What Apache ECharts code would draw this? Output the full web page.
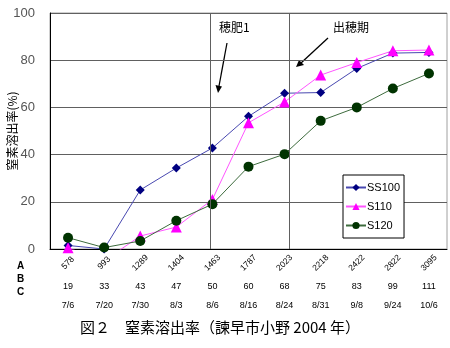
<!DOCTYPE html>
<html><head><meta charset="utf-8">
<script src="https://cdn.jsdelivr.net/npm/echarts@6/dist/echarts.min.js"></script>
<style>html,body{margin:0;padding:0;background:#fff}#c{width:450px;height:348px}</style>
</head><body><div id="c"></div>
<script>
const rowA = ['578','993','1289','1404','1463','1787','2023','2218','2422','2822','3095'];
const rowB = ['19','33','43','47','50','60','68','75','83','99','111'];
const rowC = ['7/6','7/20','7/30','8/3','8/6','8/16','8/24','8/31','9/8','9/24','10/6'];
const ss100 = [1.5, 0, 25, 34.3, 42.8, 56.2, 66, 66.3, 76.5, 83, 83.3];
const s110 = [0.5, -5, 5.5, 9.3, 21, 53.5, 62.3, 73.7, 79, 84, 84.3];
const s120 = [4.8, 0.6, 3.4, 12, 19, 34.9, 40.2, 54.3, 60, 68, 74.4];
const yTicks = [0, 20, 40, 60, 80, 100];
const eventPos = [3.93, 6.12];

const chart = echarts.init(document.getElementById('c'));
const font = 'Liberation Sans, Arial, sans-serif';
const cjk = '"Noto Sans CJK JP", sans-serif';
chart.setOption({
  animation: false,
  backgroundColor: '#fff',
  grid: {left: 50, right: 3, top: 13, bottom: 99, show: true, borderColor: '#a0a0a0', borderWidth: 1,
         containLabel: false, outerBoundsMode: 'none'},
  legend: {
    orient: 'vertical', left: 343, top: 175,
    padding: [7, 4, 7, 2], itemGap: 8,
    backgroundColor: '#fff', borderColor: '#000', borderWidth: 1,
    itemWidth: 20, itemHeight: 9,
    textStyle: {fontFamily: font, fontSize: 11, color: '#000', padding: [0,0,0,-4]},
    data: ['SS100', 'S110', 'S120']
  },
  xAxis: [
    {type: 'category', data: rowA, boundaryGap: true,
     axisLine: {onZero: false, lineStyle: {color: '#000'}}, axisTick: {show: false},
     axisLabel: {rotate: 45, align: 'center', verticalAlign: 'middle', margin: 14, fontSize: 8.5, fontFamily: font, color: '#000', interval: 0}},
    {type: 'category', data: rowB, position: 'bottom', offset: 38, boundaryGap: true,
     axisLine: {show: false}, axisTick: {show: false},
     axisLabel: {fontSize: 9, fontFamily: font, color: '#000', interval: 0, margin: 0, verticalAlign: 'middle'}},
    {type: 'category', data: rowC, position: 'bottom', offset: 57, boundaryGap: true,
     axisLine: {show: false}, axisTick: {show: false},
     axisLabel: {fontSize: 9, fontFamily: font, color: '#000', interval: 0, margin: 0, verticalAlign: 'middle'}},
    {type: 'value', min: -0.5, max: 10.5, show: false}
  ],
  yAxis: {
    type: 'value', min: yTicks[0], max: yTicks[yTicks.length-1], interval: 20,
    name: '窒素溶出率(%)', nameLocation: 'middle', nameGap: 32, nameRotate: 90, nameMoveOverlap: false,
    nameTextStyle: {fontFamily: cjk, fontSize: 12, color: '#000'},
    axisLine: {show: true, onZero: false, lineStyle: {color: '#000'}},
    axisTick: {show: false},
    axisLabel: {fontFamily: font, fontSize: 13, color: '#555', margin: 15},
    splitLine: {lineStyle: {color: '#606060', width: 1}}
  },
  series: [
    {name: 'ev', type: 'line', xAxisIndex: 3, data: [], silent: true,
     markLine: {symbol: 'none', silent: true, label: {show: false},
       lineStyle: {color: '#606060', width: 1, type: 'solid'},
       data: eventPos.map(v => ({xAxis: v}))}},
    {name: 'SS100', type: 'line', data: ss100, symbol: 'diamond', symbolSize: 9,
     itemStyle: {color: '#000080'}, lineStyle: {color: '#4848b0', width: 1}},
    {name: 'S110', type: 'line', data: s110, symbol: 'triangle', symbolSize: 11,
     itemStyle: {color: '#ff00ff'}, lineStyle: {color: '#ff55ff', width: 1}},
    {name: 'S120', type: 'line', data: s120, symbol: 'circle', symbolSize: 10,
     itemStyle: {color: '#003300'}, lineStyle: {color: '#3d6b3d', width: 1}}
  ],
  graphic: [
    {type: 'text', left: 17, top: 261, style: {text: 'A', font: 'bold 10px ' + font, fill: '#000'}},
    {type: 'text', left: 17, top: 274, style: {text: 'B', font: 'bold 10px ' + font, fill: '#000'}},
    {type: 'text', left: 17, top: 287, style: {text: 'C', font: 'bold 10px ' + font, fill: '#000'}},
    {type: 'text', left: 219, top: 21, style: {text: '穂肥1', font: '12px ' + cjk, fill: '#000'}},
    {type: 'text', left: 333, top: 21, style: {text: '出穂期', font: '12px ' + cjk, fill: '#000'}},
    {type: 'line', shape: {x1: 227, y1: 43, x2: 219, y2: 86}, style: {stroke: '#000', lineWidth: 1.3}},
    {type: 'polygon', shape: {points: [[218, 93], [215.5, 85], [222, 86.5]]}, style: {fill: '#000'}},
    {type: 'line', shape: {x1: 328, y1: 38, x2: 301, y2: 63}, style: {stroke: '#000', lineWidth: 1.3}},
    {type: 'polygon', shape: {points: [[296, 67], [299, 60], [304, 65]]}, style: {fill: '#000'}},
    {type: 'text', left: 80, top: 320, style: {text: '図２　窒素溶出率（諫早市小野 2004 年）', font: '15px ' + cjk, fill: '#000'}}
  ]
});
</script></body></html>
